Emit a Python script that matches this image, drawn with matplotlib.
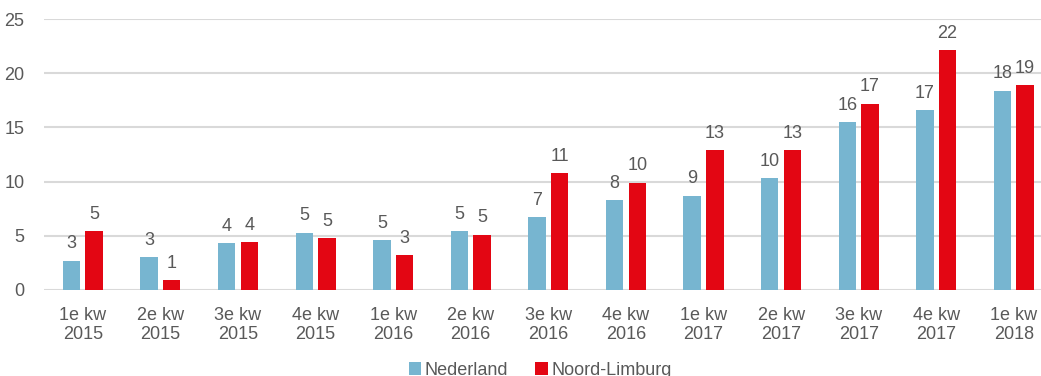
import matplotlib.pyplot as plt
import numpy as np

plt.rcParams['font.family'] = ['Liberation Sans', 'DejaVu Sans']

quarters = ["1e kw\n2015", "2e kw\n2015", "3e kw\n2015", "4e kw\n2015",
            "1e kw\n2016", "2e kw\n2016", "3e kw\n2016", "4e kw\n2016",
            "1e kw\n2017", "2e kw\n2017", "3e kw\n2017", "4e kw\n2017",
            "1e kw\n2018"]
nederland = [2.7, 3.0, 4.3, 5.3, 4.6, 5.4, 6.7, 8.3, 8.7, 10.3, 15.5, 16.6, 18.4]
noord_limburg = [5.4, 0.9, 4.4, 4.8, 3.2, 5.1, 10.8, 9.9, 12.9, 12.9, 17.2, 22.1, 18.9]

blue = "#77B5D0"
red = "#E30613"
grey = "#595959"

fig = plt.figure(figsize=(10.41, 3.76), dpi=100)
ax = fig.add_axes([44 / 1041, 1 - 290 / 376, 997 / 1041, 271 / 376])

x = np.arange(len(quarters))
w = 0.225
off = 0.146
b1 = ax.bar(x - off, nederland, w, color=blue, zorder=3, label="Nederland")
b2 = ax.bar(x + off, noord_limburg, w, color=red, zorder=3, label="Noord-Limburg")

for bars in (b1, b2):
    ax.bar_label(bars, fmt="%.0f", padding=6, fontsize=13, color=grey)

ax.set_ylim(0, 25)
ax.set_xlim(-0.5, 12.35)
ax.set_yticks(range(0, 26, 5))
ax.set_xticks(x)
ax.set_xticklabels(quarters, fontsize=13, color=grey, linespacing=1.2)
ax.tick_params(axis="y", labelsize=13, labelcolor=grey, length=0, pad=14)
ax.tick_params(axis="x", length=0, pad=12)
ax.yaxis.grid(True, color="#D9D9D9", linewidth=1.5, zorder=0)
ax.set_axisbelow(True)
for s in ax.spines.values():
    s.set_visible(False)

fig.legend(handles=[b1, b2], loc="center", bbox_to_anchor=(0.519, 0.015),
           ncol=2, frameon=False, fontsize=13, handlelength=0.7,
           handleheight=0.7, handletextpad=0.2, columnspacing=1.5,
           labelcolor=grey)

fig.savefig("out.png", dpi=100)
